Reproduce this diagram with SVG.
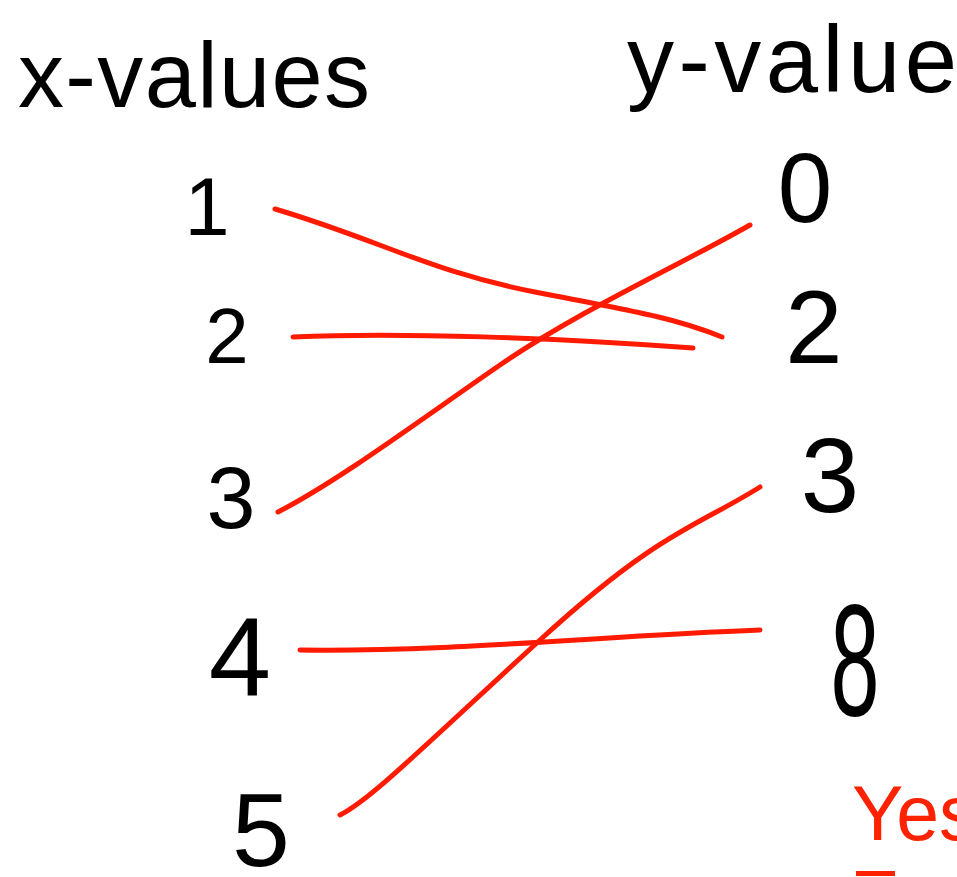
<svg xmlns="http://www.w3.org/2000/svg" width="957" height="877" viewBox="0 0 957 877">
<style>
.hw{font-family:"Liberation Sans","DejaVu Sans",sans-serif;fill:#000;}
.num{font-family:"Liberation Sans","DejaVu Sans",sans-serif;fill:#000;text-anchor:middle;}
.link{fill:none;stroke:#ff1a00;stroke-width:5;stroke-linecap:round;}
</style>
<rect width="957" height="877" fill="#fff"/>
<g id="headers">
<text class="hw" x="18" y="107" font-size="92" textLength="352" lengthAdjust="spacing">x-values</text>
<text class="hw" x="627" y="92" font-size="94" textLength="330" lengthAdjust="spacing">y-value</text>
</g>
<g id="x1"><text class="num" x="207" y="235" font-size="81">1</text></g>
<g id="x2"><text class="num" x="227" y="363" font-size="78">2</text></g>
<g id="x3"><text class="num" x="231" y="528" font-size="88">3</text></g>
<g id="x4"><text class="num" x="240" y="695" font-size="112">4</text></g>
<g id="x5"><text class="num" x="261" y="866" font-size="104">5</text></g>
<g id="y0"><text class="num" x="805" y="222" font-size="98">0</text></g>
<g id="y2"><text class="num" x="814" y="363" font-size="103">2</text></g>
<g id="y3"><text class="num" x="830" y="512" font-size="105">3</text></g>
<g id="y8"><text class="num" transform="translate(855,715) scale(0.55,1)" x="0" y="0" font-size="160">8</text></g>
<g id="connectors">
<path class="link" d="M275,209 C380,240 430,272 540,293 S680,320 722,337"/>
<path class="link" d="M293,337 C400,332 560,338 693,348"/>
<path class="link" d="M278,512 C340,480 420,420 500,365 S680,265 750,225"/>
<path class="link" d="M300,650 C450,652 600,636 760,630"/>
<path class="link" d="M340,815 C370,800 420,750 540,640 S700,525 760,487"/>
</g>
<g id="answer">
<text x="852" y="840" font-family="Liberation Sans, DejaVu Sans, sans-serif" font-size="77" fill="#ff2200">Yes</text>
<rect x="856" y="871" width="39" height="5" fill="#ff2200"/>
</g>
</svg>
